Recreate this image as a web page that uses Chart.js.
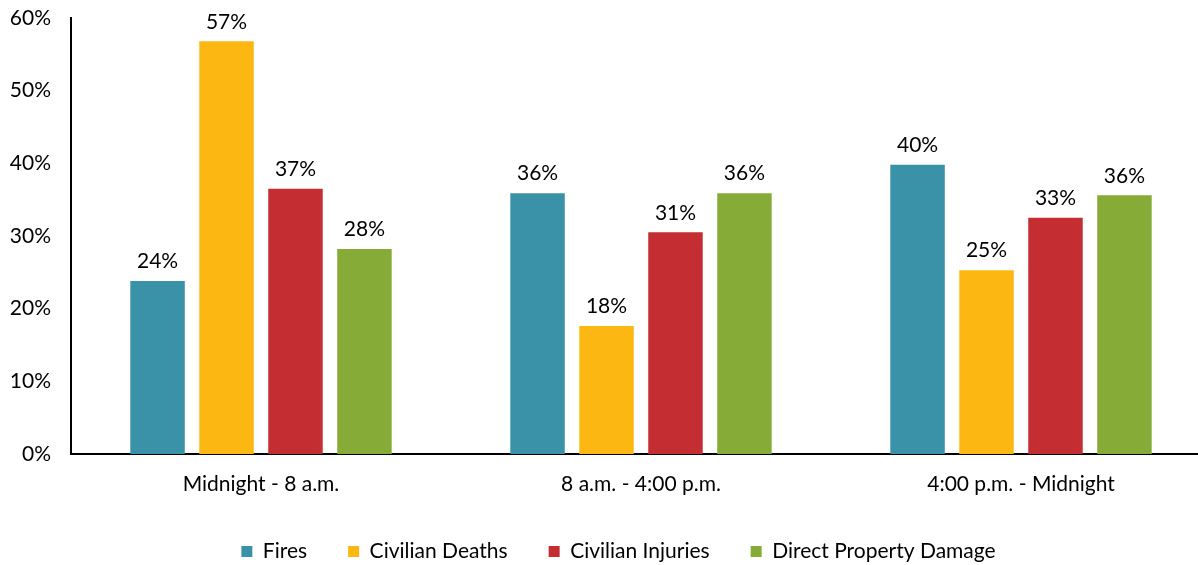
<!DOCTYPE html>
<html>
<head>
<meta charset="utf-8">
<script src="https://cdn.jsdelivr.net/npm/chart.js@4"></script>
<style>
html,body{margin:0;padding:0;background:#fff;overflow:hidden;}
#wrap{width:1198px;height:565px;overflow:hidden;}
</style>
</head>
<body>
<div id="wrap"><canvas id="c" width="1211" height="565"></canvas></div>
<script>
const categories = ["Midnight - 8 a.m.", "8 a.m. - 4:00 p.m.", "4:00 p.m. - Midnight"];
const fires = [23.8, 35.9, 39.8];
const civilianDeaths = [56.8, 17.6, 25.3];
const civilianInjuries = [36.5, 30.5, 32.5];
const propertyDamage = [28.2, 35.9, 35.6];
const yTicks = [0, 10, 20, 30, 40, 50, 60];

const FONT = "Lato, 'Open Sans', sans-serif";
const FS = 21;

const labelPlugin = {
  id: 'barLabels',
  afterLayout(chart) {
    const y = chart.scales.y;
    y.left = 0;
    y.width = y.right;
  },
  afterDatasetsDraw(chart) {
    const ctx = chart.ctx;
    ctx.save();
    ctx.font = FS + "px " + FONT;
    ctx.fillStyle = '#000';
    ctx.textAlign = 'center';
    ctx.textBaseline = 'bottom';
    chart.data.datasets.forEach((ds, i) => {
      const meta = chart.getDatasetMeta(i);
      meta.data.forEach((bar, j) => {
        ctx.fillText(Math.round(ds.data[j]) + '%', bar.x, bar.y - 9);
      });
    });
    ctx.restore();
  }
};

new Chart(document.getElementById('c'), {
  type: 'bar',
  data: {
    labels: categories,
    datasets: [
      {label: 'Fires', data: fires, backgroundColor: '#3A92A8'},
      {label: 'Civilian Deaths', data: civilianDeaths, backgroundColor: '#FDB713'},
      {label: 'Civilian Injuries', data: civilianInjuries, backgroundColor: '#C42D31'},
      {label: 'Direct Property Damage', data: propertyDamage, backgroundColor: '#86AC37'}
    ]
  },
  options: {
    responsive: false,
    animation: false,
    devicePixelRatio: 1,
    layout: {padding: {top: 18, right: 0, left: 26, bottom: -7}},
    datasets: {bar: {categoryPercentage: 0.726, barPercentage: 0.79}},
    plugins: {
      legend: {
        position: 'bottom',
        labels: {
          font: {family: FONT, size: FS},
          color: '#000',
          boxWidth: 11,
          boxHeight: 11,
          padding: 41
        }
      },
      tooltip: {enabled: false}
    },
    scales: {
      x: {
        grid: {display: false, drawTicks: false},
        border: {display: true, color: '#000', width: 2},
        ticks: {font: {family: FONT, size: FS}, color: '#000', padding: 18},
        afterFit(s) { s.height = 46; s.paddingLeft = 0; s.paddingRight = 0; }
      },
      y: {
        min: 0, max: 60,
        afterBuildTicks(s) { s.ticks = yTicks.map(v => ({value: v})); },
        grid: {display: false, drawTicks: false},
        border: {display: true, color: '#000', width: 2},
        ticks: {font: {family: FONT, size: FS}, color: '#000', padding: 20,
          callback: v => v + '%'},
        afterFit(s) { s.width = 45; s.paddingTop = 0; s.paddingBottom = 0; }
      }
    }
  },
  plugins: [labelPlugin]
});
</script>
</body>
</html>
